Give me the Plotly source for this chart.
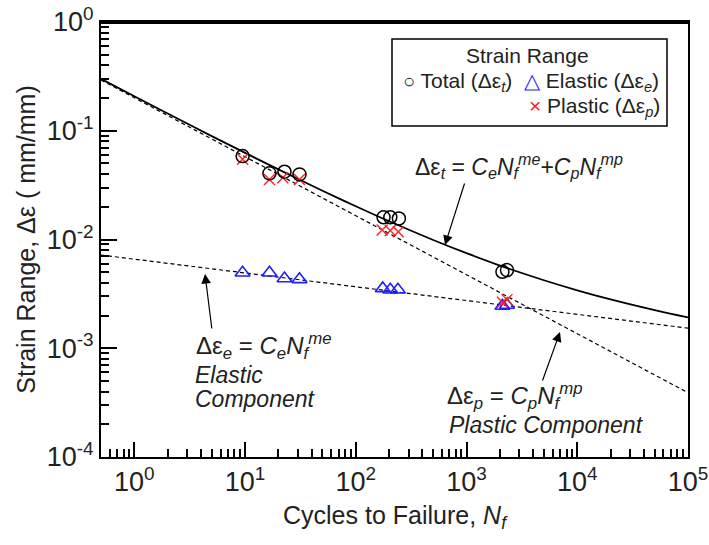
import plotly.graph_objects as go

# ---------------- data ----------------
total_N = [9.5, 16.6, 22.7, 31, 178, 205, 245, 2110, 2320]
total_e = [0.0585, 0.0406, 0.0420, 0.0397, 0.0160, 0.0160, 0.0156, 0.00505, 0.00523]

elastic_N = [9.5, 16.6, 22.7, 31, 175, 205, 240, 2110, 2320]
elastic_e = [0.00494, 0.00494, 0.00438, 0.00430, 0.00355, 0.00345, 0.00345, 0.00245, 0.00250]

plastic_N = [9.5, 16.6, 21.9, 31, 173, 205, 242, 2110, 2320]
plastic_e = [0.0546, 0.0357, 0.0370, 0.0357, 0.0122, 0.0121, 0.01178, 0.00265, 0.00280]

# fitted lines
elastic_fit_N = [0.5, 1e5]
elastic_fit_e = [0.0072, 0.00153]
plastic_fit_N = [0.5, 1e5]
plastic_fit_e = [0.293, 0.00039]
total_fit_N = [0.5, 1, 2, 5, 10, 20, 50, 100, 200, 500, 1000, 2000, 5000, 1e4, 2e4, 5e4, 1e5]
total_fit_e = [0.300, 0.2076, 0.1440, 0.0893, 0.0626, 0.0441, 0.0281, 0.0202, 0.0147,
               0.0099, 0.00748, 0.00576, 0.00422, 0.00341, 0.00281, 0.00224, 0.00192]

x_ticks = [1, 10, 100, 1000, 10000, 100000]
x_ticktext = ["10<sup>0</sup>", "10<sup>1</sup>", "10<sup>2</sup>", "10<sup>3</sup>",
              "10<sup>4</sup>", "10<sup>5</sup>"]
y_ticks = [1e-4, 1e-3, 1e-2, 1e-1, 1]
y_ticktext = ["10<sup>-4</sup>", "10<sup>-3</sup>", "10<sup>-2</sup>", "10<sup>-1</sup>", "10<sup>0</sup>"]

FONT = "Liberation Sans, Arial, sans-serif"
TXT = "#222"
BLUE = "#1f1fff"
RED = "#ff2020"

fig = go.Figure()
fig.add_trace(go.Scatter(x=elastic_fit_N, y=elastic_fit_e, mode="lines",
                         line=dict(color="black", width=1.2, dash="4px,3px")))
fig.add_trace(go.Scatter(x=plastic_fit_N, y=plastic_fit_e, mode="lines",
                         line=dict(color="black", width=1.2, dash="4px,3px")))
fig.add_trace(go.Scatter(x=total_fit_N, y=total_fit_e, mode="lines",
                         line=dict(color="black", width=1.8), line_shape="spline"))
fig.add_trace(go.Scatter(x=elastic_N, y=elastic_e, mode="markers",
                         marker=dict(symbol="triangle-up-open", size=13, color=BLUE,
                                     line=dict(width=1.6, color=BLUE))))
fig.add_trace(go.Scatter(x=plastic_N, y=plastic_e, mode="markers",
                         marker=dict(symbol="x-thin-open", size=11, color=RED,
                                     line=dict(width=1.4, color=RED))))
fig.add_trace(go.Scatter(x=total_N, y=total_e, mode="markers",
                         marker=dict(symbol="circle-open", size=13, color="black",
                                     line=dict(width=1.5, color="black"))))

minor_x = [m * 10 ** k for k in range(-1, 5) for m in range(2, 10)]
minor_y = [m * 10 ** k for k in range(-4, 0) for m in range(2, 10)]

fig.update_xaxes(type="log", range=[-0.301, 5], tickmode="array", tickvals=x_ticks,
                 ticktext=x_ticktext, ticks="inside", ticklen=15, tickwidth=1.5,
                 tickcolor="black", showline=True, linewidth=2, linecolor="black",
                 mirror=True, showgrid=False, zeroline=False, ticklabeloverflow="allow",
                 tickfont=dict(size=27, color=TXT),
                 minor=dict(tickmode="array", tickvals=minor_x, ticks="inside", ticklen=8,
                            tickwidth=1.5, tickcolor="black", showgrid=False),
                 title=dict(text="Cycles to Failure, <i>N<sub>f</sub></i>",
                            font=dict(size=25, color=TXT), standoff=10))
fig.update_yaxes(type="log", range=[-4, 0], tickmode="array", tickvals=y_ticks,
                 ticktext=y_ticktext, ticks="inside", ticklen=16, tickwidth=1.5,
                 tickcolor="black", showline=True, linewidth=2, linecolor="black",
                 mirror=True, showgrid=False, zeroline=False, ticklabeloverflow="allow",
                 tickfont=dict(size=27, color=TXT),
                 minor=dict(tickmode="array", tickvals=minor_y, ticks="inside", ticklen=8,
                            tickwidth=1.5, tickcolor="black", showgrid=False),
                 title=dict(text="Strain Range, Δε ( mm/mm)",
                            font=dict(size=25, color=TXT), standoff=4))

# plot area in page pixels
L, T, R, B = 101, 22, 688, 457
W, H = 709, 545
def px(x):
    return (x - L) / (R - L)
def py(y):
    return (B - y) / (B - T)

ann = []
# legend box text
ann.append(dict(x=px(527), y=py(56), text="Strain Range", showarrow=False,
                font=dict(size=21, color=TXT), xanchor="center", yanchor="middle"))
ann.append(dict(x=px(401), y=py(82), xanchor="left", yanchor="middle", showarrow=False,
                text="<span style='font-size:20px'>○</span> Total (Δε<sub><i>t</i></sub>)",
                font=dict(size=21, color=TXT)))
ann.append(dict(x=px(522), y=py(82), xanchor="left", yanchor="middle", showarrow=False,
                text="<span style='color:%s'>△</span> Elastic (Δε<sub><i>e</i></sub>)" % BLUE,
                font=dict(size=21, color=TXT)))
ann.append(dict(x=px(527), y=py(107), xanchor="left", yanchor="middle", showarrow=False,
                text="<span style='color:%s'>×</span> Plastic (Δε<sub><i>p</i></sub>)" % RED,
                font=dict(size=21, color=TXT)))

# equations
ann.append(dict(x=px(413), y=py(166), xanchor="left", yanchor="middle", showarrow=False,
                text="Δε<sub><i>t</i></sub> = <i>C<sub>e</sub>N<sub>f</sub><sup>m</sup></i>"
                     "<sup><i>e</i></sup>+<i>C<sub>p</sub>N<sub>f</sub><sup>m</sup></i><sup><i>p</i></sup>",
                font=dict(size=23, color=TXT)))
ann.append(dict(x=px(194), y=py(346), xanchor="left", yanchor="middle", showarrow=False,
                text="Δε<sub><i>e</i></sub> = <i>C<sub>e</sub>N<sub>f</sub><sup>m</sup></i><sup><i>e</i></sup>",
                font=dict(size=24, color=TXT)))
ann.append(dict(x=px(193), y=py(375), xanchor="left", yanchor="middle", showarrow=False,
                text="<i>Elastic</i>", font=dict(size=23, color=TXT)))
ann.append(dict(x=px(193), y=py(399), xanchor="left", yanchor="middle", showarrow=False,
                text="<i>Component</i>", font=dict(size=23, color=TXT)))
ann.append(dict(x=px(445), y=py(396), xanchor="left", yanchor="middle", showarrow=False,
                text="Δε<sub><i>p</i></sub> = <i>C<sub>p</sub>N<sub>f</sub><sup>m</sup></i><sup><i>p</i></sup>",
                font=dict(size=24, color=TXT)))
ann.append(dict(x=px(447), y=py(425), xanchor="left", yanchor="middle", showarrow=False,
                text="<i>Plastic Component</i>",
                font=dict(size=23, color=TXT)))

# arrows
for tip, tail in [((445, 245), (465, 182)), ((205, 274), (212, 330)), ((560, 332), (542, 382))]:
    ann.append(dict(x=px(tip[0]), y=py(tip[1]), ax=tail[0] - tip[0], ay=tail[1] - tip[1],
                    text="", showarrow=True, arrowhead=2, arrowsize=1.6, arrowwidth=1.2,
                    arrowcolor="black"))

for a in ann:
    a.setdefault("xref", "paper")
    a.setdefault("yref", "paper")

fig.update_layout(
    width=W, height=H, showlegend=False,
    margin=dict(l=L, r=W - R, t=T, b=H - B, autoexpand=False),
    paper_bgcolor="white", plot_bgcolor="white",
    font=dict(family=FONT, color=TXT),
    annotations=ann,
    shapes=[
        dict(type="rect", xref="paper", yref="paper", x0=px(392), x1=px(667),
             y0=py(126), y1=py(39), line=dict(color="black", width=1.5),
             fillcolor="white", layer="below"),
        dict(type="line", xref="paper", yref="paper", x0=0, x1=1, y0=py(23), y1=py(23),
             line=dict(color="black", width=2), layer="above"),
    ],
)

fig.write_html("out.html", config={"displayModeBar": False},
               post_script="document.body.style.margin='0';document.body.style.overflow='hidden';")
